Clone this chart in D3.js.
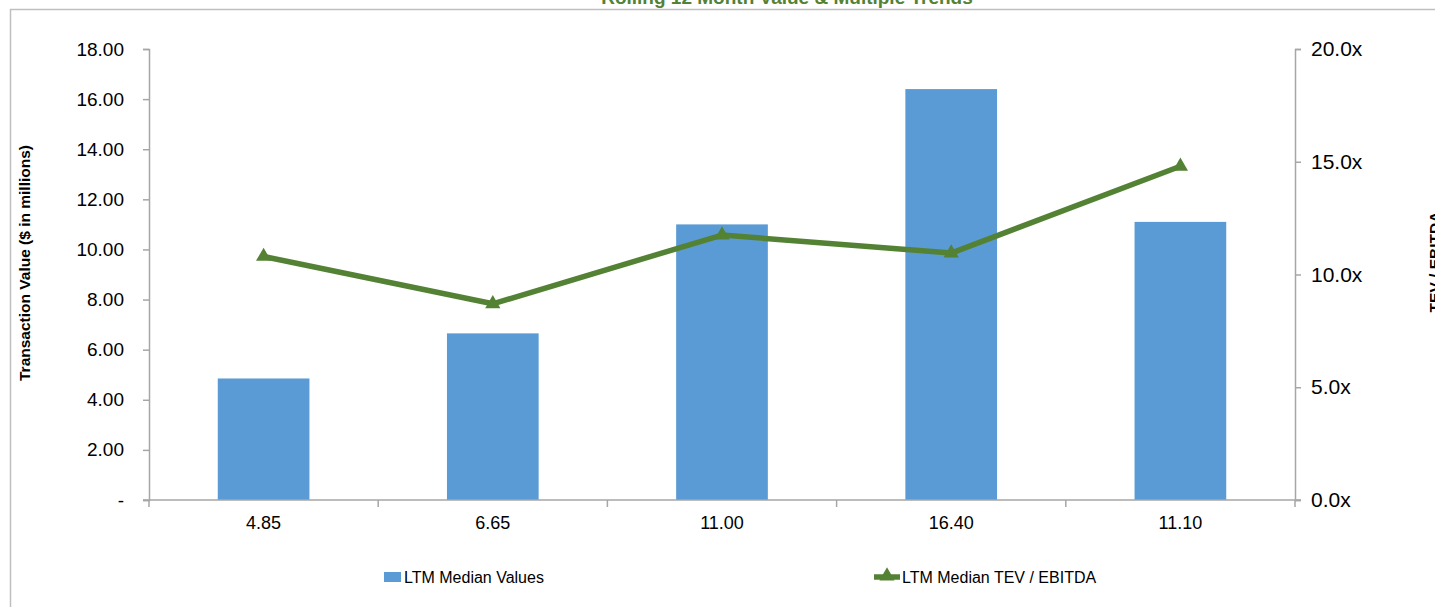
<!DOCTYPE html>
<html>
<head>
<meta charset="utf-8">
<script src="https://cdn.jsdelivr.net/npm/d3@7/dist/d3.min.js"></script>
<style>
  html, body { margin: 0; padding: 0; background: #fff; overflow: hidden; }
  svg { display: block; font-family: "Liberation Sans", Arial, sans-serif; }
</style>
</head>
<body>
<svg id="chart" width="1435" height="607"></svg>
<script>
// Period labels shown under each bar
const categories = ["4.85", "6.65", "11.00", "16.40", "11.10"];
// LTM median transaction value ($ millions)
const medianValues = [4.85, 6.65, 11.00, 16.40, 11.10];
// LTM median TEV / EBITDA multiple
const tevEbitda = [10.8, 8.7, 11.75, 10.95, 14.8];
// Axis ticks
const leftTicks = [0, 2, 4, 6, 8, 10, 12, 14, 16, 18];
const rightTicks = [0, 5, 10, 15, 20];

const barColor = "#5b9bd5";
const lineColor = "#548235";
const axisColor = "#a6a6a6";

const svg = d3.select("#chart");
const plot = { left: 149, right: 1295, top: 49, bottom: 500 };

// Outer chart border
svg.append("rect")
  .attr("x", 10.5).attr("y", 9.5)
  .attr("width", 1500).attr("height", 700)
  .attr("fill", "none").attr("stroke", "#bfbfbf").attr("stroke-width", 1.5);

// Title (sits above the border)
svg.append("text")
  .attr("x", 787).attr("y", 4)
  .attr("text-anchor", "middle")
  .attr("font-size", 19).attr("font-weight", "bold")
  .attr("fill", "#538135")
  .text("Rolling 12 Month Value & Multiple Trends");

const x = d3.scaleBand()
  .domain(d3.range(categories.length))
  .range([plot.left, plot.right])
  .paddingInner(0.6)
  .paddingOuter(0.3);

const yL = d3.scaleLinear().domain([0, 18]).range([plot.bottom, plot.top]);
const yR = d3.scaleLinear().domain([0, 20]).range([plot.bottom, plot.top]);

// Bars
svg.append("g").selectAll("rect")
  .data(medianValues)
  .join("rect")
  .attr("x", (d, i) => x(i))
  .attr("width", x.bandwidth())
  .attr("y", d => yL(d))
  .attr("height", d => yL(0) - yL(d))
  .attr("fill", barColor);

// Left axis
const leftAxis = svg.append("g")
  .attr("transform", `translate(${plot.left},0)`)
  .call(d3.axisLeft(yL).tickValues(leftTicks).tickSizeOuter(0).tickSize(6).tickPadding(19)
    .tickFormat(d => d === 0 ? "-" : d3.format(".2f")(d)));

// Right axis
const rightAxis = svg.append("g")
  .attr("transform", `translate(${plot.right},0)`)
  .call(d3.axisRight(yR).tickValues(rightTicks).tickSizeOuter(0).tickSize(6).tickPadding(10)
    .tickFormat(d => d3.format(".1f")(d) + "x"));

// Bottom axis: ticks at band boundaries
const bottom = svg.append("g").attr("transform", `translate(0,${plot.bottom})`);
bottom.append("line")
  .attr("x1", plot.left - 6).attr("x2", plot.right + 6)
  .attr("stroke", axisColor).attr("stroke-width", 1.5);
const step = x.step();
const edges = d3.range(categories.length + 1).map(i => x(0) - x.paddingOuter() * step + i * step);
bottom.selectAll("line.edge")
  .data(edges)
  .join("line")
  .attr("class", "edge")
  .attr("x1", d => d).attr("x2", d => d)
  .attr("y1", 0).attr("y2", 7)
  .attr("stroke", axisColor).attr("stroke-width", 1.5);
bottom.selectAll("text")
  .data(categories)
  .join("text")
  .attr("x", (d, i) => x(i) + x.bandwidth() / 2)
  .attr("y", 29)
  .attr("text-anchor", "middle")
  .attr("font-size", 18)
  .attr("fill", "#000")
  .text(d => d);

[leftAxis, rightAxis].forEach(g => {
  g.select(".domain").attr("stroke", axisColor).attr("stroke-width", 1.5);
  g.selectAll(".tick line").attr("stroke", axisColor).attr("stroke-width", 1.5);
  g.selectAll(".tick text").attr("fill", "#000")
    .attr("font-family", "Liberation Sans, Arial, sans-serif");
});
leftAxis.selectAll(".tick text").attr("font-size", 19);
rightAxis.selectAll(".tick text").attr("font-size", 21);

// TEV / EBITDA line
const line = d3.line()
  .x((d, i) => x(i) + x.bandwidth() / 2)
  .y(d => yR(d));
svg.append("path")
  .datum(tevEbitda)
  .attr("d", line)
  .attr("fill", "none")
  .attr("stroke", lineColor)
  .attr("stroke-width", 5.5)
  .attr("stroke-linejoin", "round");

const tri = d3.symbol().type(d3.symbolTriangle).size(100);
svg.append("g").selectAll("path")
  .data(tevEbitda)
  .join("path")
  .attr("transform", (d, i) => `translate(${x(i) + x.bandwidth() / 2},${yR(d)})`)
  .attr("d", tri)
  .attr("fill", lineColor);

// Axis titles
svg.append("text")
  .attr("transform", "translate(30,263) rotate(-90)")
  .attr("text-anchor", "middle")
  .attr("font-size", 15.5).attr("font-weight", "bold")
  .attr("fill", "#000")
  .text("Transaction Value ($ in millions)");

svg.append("text")
  .attr("transform", "translate(1440,262) rotate(-90)")
  .attr("text-anchor", "middle")
  .attr("font-size", 15.5).attr("font-weight", "bold")
  .attr("fill", "#000")
  .text("TEV / EBITDA");

// Legend
const legend = svg.append("g").attr("font-size", 16).attr("fill", "#000");
legend.append("rect")
  .attr("x", 384).attr("y", 572).attr("width", 17).attr("height", 10)
  .attr("fill", barColor);
legend.append("text").attr("x", 404).attr("y", 583).text("LTM Median Values");

legend.append("line")
  .attr("x1", 874).attr("x2", 900).attr("y1", 577).attr("y2", 577)
  .attr("stroke", lineColor).attr("stroke-width", 5.5);
legend.append("path")
  .attr("transform", "translate(887,576)")
  .attr("d", tri)
  .attr("fill", lineColor);
legend.append("text").attr("x", 902).attr("y", 583).text("LTM Median TEV / EBITDA");
</script>
</body>
</html>
